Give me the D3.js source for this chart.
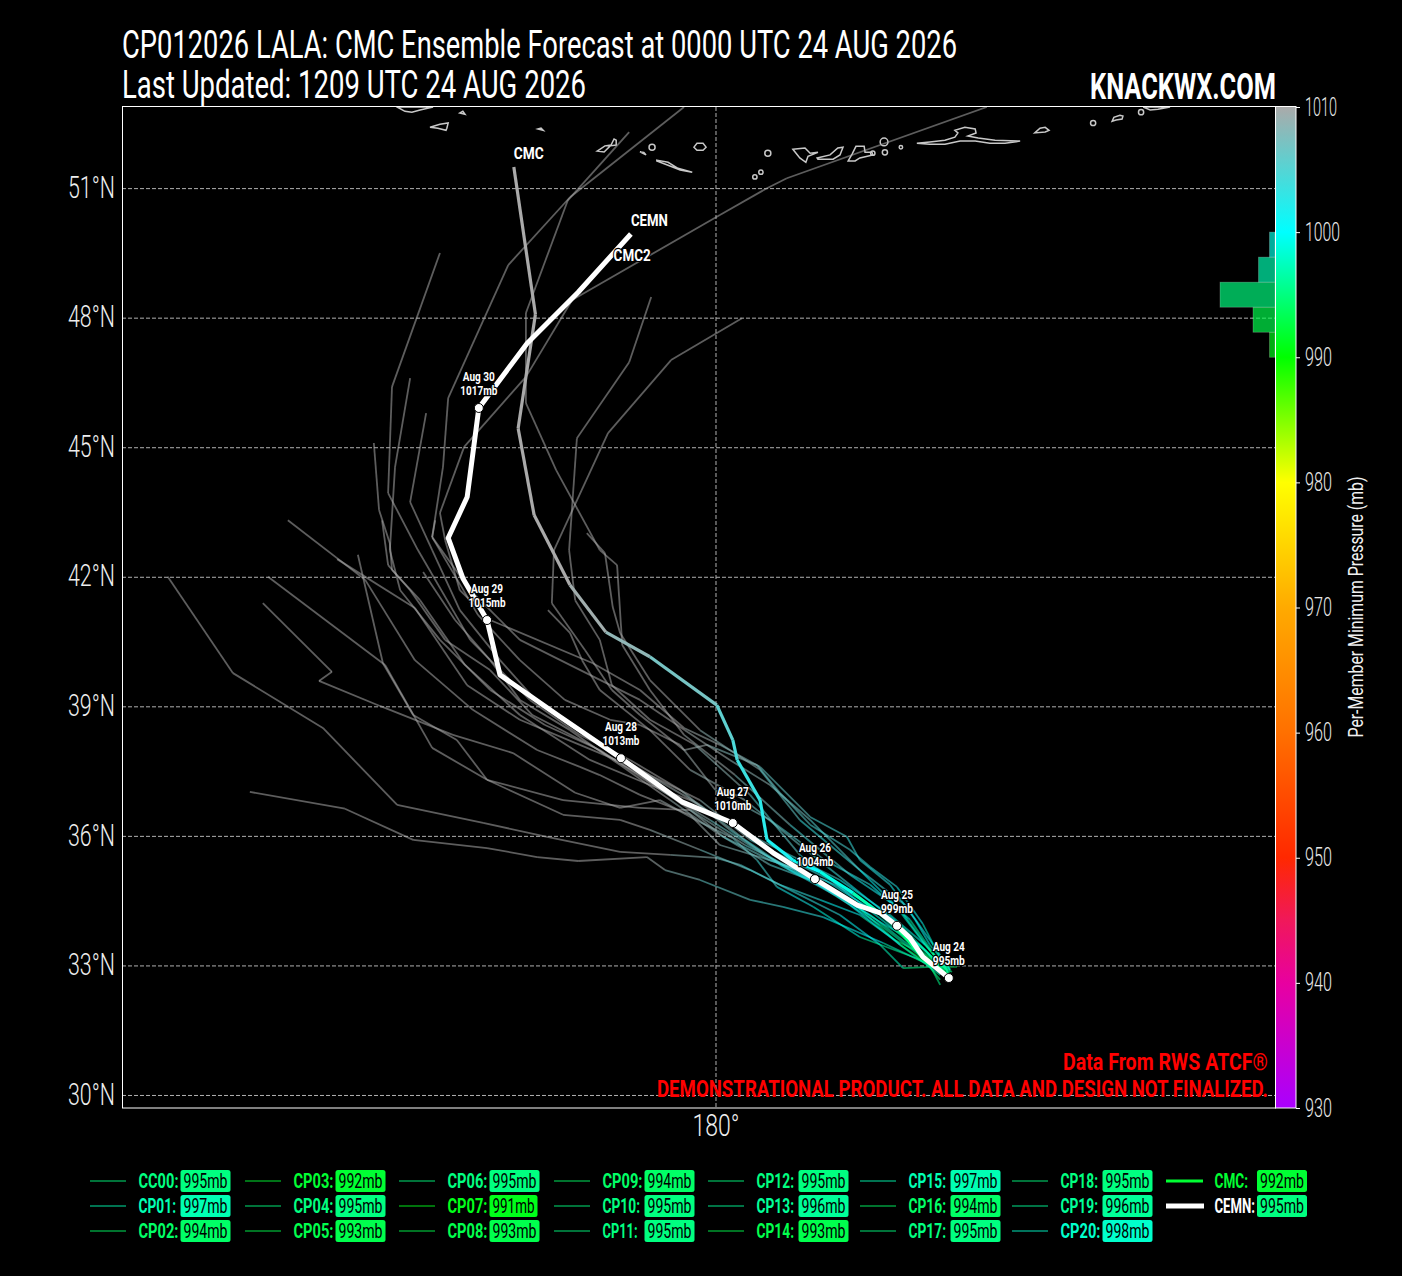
<!DOCTYPE html>
<html>
<head>
<meta charset="utf-8">
<script src="https://cdn.jsdelivr.net/npm/d3@7"></script>
<style>
  body { margin: 0; background: #000; }
  svg { display: block; }
  text { font-family: Roboto, "DejaVu Sans Condensed", sans-serif; }
</style>
</head>
<body>
<svg width="1402" height="1276"></svg>
<script>
// --- Track data: [lon east, lat, pressure mb], one point per forecast vertex ---
const cc00 = [[185.30,32.86,995],[184.84,33.37,998],[184.26,33.83,999],[183.57,34.41,1002],[182.76,34.88,1003],[181.94,35.22,1005],[181.02,35.52,1007],[180.09,35.80,1009],[179.40,36.50,1010],[178.24,36.96,1010],[177.31,37.42,1011],[176.85,37.61,1012],[175.86,38.00,1013],[174.37,38.93,1014],[173.03,40.08,1015],[171.88,41.94,1016],[170.09,43.32,1017]];
const cp01 = [[185.42,32.91,997],[184.95,33.49,999],[184.61,34.07,1000],[184.03,34.88,1002],[183.33,35.45,1003],[183.03,35.99,1004],[182.18,36.45,1005],[181.02,37.61,1007],[180.09,38.12,1009],[179.26,38.51,1010],[178.24,39.39,1010],[177.15,40.01,1011],[174.77,41.01,1012],[174.07,41.70,1013],[173.73,42.86,1014],[173.61,43.49,1014],[174.17,45.02,1015],[175.60,46.64,1015],[176.67,48.42,1016],[180.09,50.39,1016],[181.18,51.01,1017],[181.64,51.24,1017],[186.27,52.89,1018]];
const cp02 = [[185.58,32.98,994],[185.00,32.98,995],[184.33,32.95,996],[183.80,33.49,999],[182.87,34.18,1002],[181.71,34.76,1004],[180.79,35.22,1006],[179.63,35.69,1008],[178.47,36.15,1010],[177.78,36.38,1010],[176.46,36.50,1011],[174.70,37.31,1012],[173.43,38.05,1013],[172.34,39.97,1014],[169.63,42.01,1016]];
const cp03 = [[185.37,32.79,992],[184.84,33.25,994],[184.14,33.60,996],[183.33,34.18,999],[182.41,34.53,1002],[181.48,34.88,1004],[180.56,35.34,1006],[180.00,35.50,1007],[178.94,35.57,1010],[177.78,35.64,1010],[176.09,35.99,1011],[174.61,36.31,1012],[172.62,36.73,1013],[170.90,38.51,1014],[168.82,39.78,1015],[167.31,42.01,1016]];
const cp04 = [[185.19,32.56,995],[184.95,33.02,996],[183.87,33.53,999],[182.48,34.13,1002],[181.55,34.37,1004],[180.79,34.53,1005],[179.63,34.99,1007],[178.82,35.22,1009],[178.40,35.52,1010],[176.81,35.43,1010],[175.86,35.52,1011],[174.70,35.73,1012],[172.99,35.92,1013],[171.41,36.64,1014],[169.21,37.03,1015]];
const cp05 = [[185.37,32.81,993],[184.61,33.19,995],[183.33,33.67,998],[182.25,34.37,1000],[181.41,34.83,1003],[180.95,35.45,1005],[180.39,35.96,1007],[179.63,36.33,1009],[178.70,36.84,1010],[177.78,36.66,1010],[176.74,37.01,1011],[175.30,37.93,1012],[173.91,38.35,1013],[172.22,39.02,1014],[170.81,39.60,1015],[171.11,39.81,1015],[169.51,41.40,1016]];
const cp06 = [[185.30,32.84,995],[184.72,33.49,998],[183.91,33.95,999],[182.99,34.53,1002],[182.18,34.99,1004],[181.25,35.34,1006],[180.21,35.96,1008],[179.40,36.61,1010],[178.24,36.66,1010],[176.46,36.84,1011],[174.70,37.31,1012],[174.00,38.23,1013],[172.99,38.81,1014],[172.29,40.01,1015],[171.71,42.52,1016]];
const cp07 = [[185.30,32.79,991],[184.26,33.49,994],[183.10,34.53,998],[181.71,35.22,1003],[180.67,35.92,1006],[179.63,36.73,1009],[178.24,37.54,1010],[176.85,38.12,1011],[175.46,38.70,1012],[174.24,39.50,1013],[173.03,41.29,1014],[171.23,42.42,1016]];
const cp08 = [[185.42,32.72,993],[184.84,33.14,995],[183.80,33.95,998],[182.76,34.64,1000],[181.48,35.34,1004],[180.32,36.15,1007],[179.17,37.08,1010],[178.01,37.77,1010],[176.85,38.35,1011],[175.69,39.16,1012],[174.31,40.55,1013],[173.10,42.63,1014],[172.41,43.95,1015],[172.50,46.41,1016],[173.61,49.51,1017]];
const cp09 = [[185.19,32.68,994],[184.61,33.37,996],[183.57,34.18,999],[182.41,34.88,1002],[181.13,35.57,1005],[179.86,36.38,1008],[178.70,37.08,1010],[177.31,38.00,1010],[176.04,38.58,1011],[174.77,39.39,1012],[173.61,40.55,1013],[172.69,41.70,1014],[172.45,42.63,1015],[172.57,44.55,1016],[172.92,46.61,1017]];
const cp10 = [[185.46,32.86,995],[184.95,33.25,996],[184.14,33.95,999],[183.10,34.76,1002],[181.94,35.34,1005],[180.79,35.92,1007],[179.63,36.84,1010],[178.47,37.42,1010],[177.31,38.12,1011],[175.93,39.04,1012],[175.00,40.08,1013],[174.07,41.24,1014],[173.43,42.63,1015],[172.92,43.74,1016],[173.29,45.80,1017]];
const cp11 = [[185.37,32.91,995],[184.84,33.49,998],[184.03,34.18,1000],[182.87,34.99,1003],[181.71,35.57,1005],[180.56,36.15,1008],[179.40,36.84,1010],[178.47,37.19,1010],[177.08,37.77,1011],[175.46,38.81,1012],[174.19,39.97,1013],[173.15,41.47,1014],[172.50,42.17,1015],[172.45,42.79,1015],[172.20,43.56,1016],[172.08,45.11,1017]];
const cp12 = [[185.30,32.91,995],[184.49,34.07,999],[183.57,34.88,1002],[182.52,35.45,1004],[181.25,36.38,1006],[179.98,37.08,1009],[179.17,38.12,1010],[178.24,38.58,1010],[177.55,38.70,1011],[176.50,39.16,1012],[175.46,40.08,1013],[174.49,41.13,1014],[173.43,42.93,1015],[173.68,44.55,1016],[173.80,46.15,1017],[175.19,49.23,1017],[176.62,50.80,1018],[179.26,52.89,1018]];
const cp13 = [[185.37,32.86,996],[184.84,33.49,998],[184.14,34.41,1000],[183.10,35.11,1003],[181.71,36.27,1006],[180.44,37.42,1009],[179.26,38.35,1010],[178.47,39.39,1010],[177.83,40.43,1011],[177.71,42.28,1012],[177.31,42.63,1013],[176.30,44.48,1014],[175.60,46.03,1015],[175.60,48.12,1016],[176.57,50.73,1017],[177.99,52.31,1018]];
const cp14 = [[185.42,32.79,993],[185.07,33.02,994],[184.14,33.83,998],[183.10,34.64,1000],[181.94,35.57,1004],[180.79,36.96,1007],[179.51,38.12,1010],[178.47,38.70,1010],[177.59,39.50,1011],[177.31,40.55,1012],[176.74,41.47,1013],[176.60,42.63,1014],[176.78,45.22,1015],[177.99,46.98,1016],[178.50,48.49,1017]];
const cp15 = [[185.37,32.84,997],[184.79,33.97,1000],[184.19,34.83,1002],[183.57,35.29,1003],[183.10,35.69,1004],[182.18,36.27,1005],[181.48,37.01,1006],[180.95,37.65,1007],[179.79,38.12,1009],[179.26,38.00,1010],[178.24,38.81,1010],[177.59,39.39,1011],[176.97,40.31,1012],[176.20,41.40,1013],[176.25,42.63,1014],[177.50,45.34,1015],[178.96,47.03,1016],[180.60,48.00,1017]];
const cp16 = [[185.42,32.79,994],[184.95,33.37,996],[184.26,34.30,999],[183.33,35.22,1002],[181.94,36.38,1005],[181.02,37.54,1007],[179.63,38.46,1010],[178.47,39.62,1010],[177.78,40.71,1011],[177.61,41.31,1012],[177.43,42.56,1013],[177.01,43.02,1014]];
const cp17 = [[185.35,32.75,995],[185.07,33.14,996],[184.26,33.95,999],[183.10,34.88,1002],[181.94,35.80,1005],[180.67,36.84,1008],[179.40,37.54,1010],[178.47,38.46,1010],[177.31,39.39,1011],[176.90,40.08,1012],[176.62,40.71,1013],[176.11,41.24,1014]];
const cp18 = [[185.42,32.86,995],[184.72,33.37,996],[183.80,34.18,999],[182.52,34.99,1003],[181.25,35.45,1005],[180.09,36.03,1008],[178.94,36.84,1010],[177.78,37.65,1010],[176.62,38.46,1011],[175.46,39.16,1012],[174.77,40.08,1013],[173.96,41.01,1014],[173.22,42.12,1015]];
const cp19 = [[185.19,32.79,996],[184.26,33.49,999],[183.10,34.41,1002],[181.83,35.22,1004],[180.67,35.80,1007],[179.40,36.61,1010],[178.24,37.42,1010],[177.08,38.12,1011],[175.75,38.81,1012],[174.77,39.85,1013],[173.73,40.55,1014],[172.92,41.70,1015],[172.41,42.28,1016],[172.27,43.32,1016]];
const cp20 = [[185.42,32.91,998],[184.95,33.60,1000],[184.38,34.41,1002],[183.33,35.22,1004],[182.18,36.38,1006],[181.25,37.19,1008],[180.32,37.77,1009],[179.28,38.46,1010],[178.24,39.16,1010],[177.08,39.74,1011],[175.46,40.55,1012],[174.31,41.70,1013],[173.43,42.93,1014],[173.50,43.32,1015]];
const cmcTrack = [[185.39,32.72,992],[184.77,33.21,994],[184.10,33.99,996],[183.17,34.69,998],[182.41,35.18,1000],[181.78,35.45,1001],[181.18,35.92,1002],[181.02,36.84,1003],[180.49,37.77,1004],[180.39,38.23,1005],[180.02,39.04,1006],[178.47,40.16,1008],[177.45,40.73,1009],[176.62,41.82,1010],[175.79,43.44,1011],[175.42,45.45,1012],[175.82,48.09,1013],[175.32,51.50,1014]];
const cemnTrack = [[185.39,32.72],[184.79,33.21],[184.49,33.65],[184.19,33.93],[183.80,34.23],[183.27,34.41],[182.29,35.01],[181.32,35.62],[180.39,36.31],[179.21,36.80],[177.80,37.81],[176.39,38.77],[175.00,39.74],[174.70,41.01],[174.14,41.98],[173.80,42.91],[174.24,43.86],[174.51,45.92],[175.63,47.42],[176.81,48.60],[178.03,49.95]];

const memberTracks = [cc00, cp01, cp02, cp03, cp04, cp05, cp06, cp07, cp08, cp09, cp10, cp11, cp12, cp13, cp14, cp15, cp16, cp17, cp18, cp19, cp20];
const memberNames = ["CC00","CP01","CP02","CP03","CP04","CP05","CP06","CP07","CP08","CP09","CP10","CP11","CP12","CP13","CP14","CP15","CP16","CP17","CP18","CP19","CP20"];
const memberMinMb = [995,997,994,992,995,993,995,991,993,994,995,995,995,996,993,997,994,995,995,996,998];

// daily CEMN waypoints: [lon, lat, date, mb]
const waypoints = [[185.39,32.72,"Aug 24",995],[184.19,33.93,"Aug 25",999],[182.29,35.01,"Aug 26",1004],[180.39,36.31,"Aug 27",1010],[177.80,37.81,"Aug 28",1013],[174.70,41.01,"Aug 29",1015],[174.51,45.92,"Aug 30",1017]];
const trackEndLabels = [[175.32,51.50,"CMC",30],[178.03,49.95,"CEMN",37],[177.63,49.14,"CMC2",37]];

const latTicks = [30,33,36,39,42,45,48,51];
const lonTicks = [180];
const pressureTicks = [930,940,950,960,970,980,990,1000,1010];
const colorStops = [930,940,945,950,960,970,980,990,1000,1010];
const colorValues = ["#aa00ff","#e800a0","#f0185a","#ff2800","#ff7000","#ffaa00","#ffff00","#00ff00","#00ffff","#aaaaaa"];
// member counts per 2 mb bin
const histEdges = [990,992,994,996,998,1000];
const histCounts = [1,4,10,3,1];

// coastline outlines, lon/lat
const islands = [
  [[172.62,52.89],[172.80,52.79],[172.96,52.77],[173.15,52.82],[173.45,52.89]],
  [[173.38,52.42],[173.61,52.49],[173.80,52.52],[173.77,52.40],[173.75,52.35],[173.56,52.40]],
  [[174.07,52.75],[174.19,52.72],[174.14,52.79]],
  [[175.88,52.38],[176.00,52.35],[175.95,52.40]],
  [[177.25,51.87],[177.43,51.99],[177.57,52.01],[177.64,52.15],[177.69,52.12],[177.69,52.01],[177.55,51.99],[177.41,51.85]],
  [[178.24,51.85],[178.38,51.78],[178.33,51.84]],
  [[178.63,51.66],[178.89,51.61],[179.12,51.47],[179.45,51.38],[179.17,51.43],[178.89,51.54],[178.63,51.64]],
  [[179.49,51.96],[179.56,52.05],[179.70,52.05],[179.77,51.96],[179.70,51.89],[179.56,51.89]],
  [[181.78,51.91],[182.06,51.94],[182.18,51.82],[182.36,51.84],[182.13,51.75],[182.08,51.61],[181.94,51.71]],
  [[182.34,51.71],[182.64,51.78],[182.82,51.94],[182.94,51.96],[182.87,51.78],[182.71,51.68],[182.36,51.68]],
  [[183.06,51.64],[183.15,51.80],[183.24,51.98],[183.43,51.98],[183.45,51.84],[183.61,51.84],[183.63,51.78],[183.33,51.71],[183.22,51.64]],
  [[184.65,52.05],[184.95,52.08],[185.30,52.12],[185.53,52.19],[185.60,52.29],[185.53,52.35],[185.76,52.42],[186.00,52.38],[186.02,52.29],[185.83,52.22],[186.07,52.17],[186.46,52.12],[187.04,52.10],[186.69,52.05],[186.34,52.05],[186.00,52.10],[185.65,52.10],[185.30,52.03],[184.95,52.03]],
  [[187.38,52.29],[187.50,52.40],[187.62,52.42],[187.71,52.35],[187.62,52.31]],
  [[189.17,52.56],[189.21,52.65],[189.35,52.70],[189.42,52.68],[189.40,52.61],[189.26,52.59]],
  [[189.89,52.89],[190.05,52.82],[190.23,52.84],[190.51,52.89]]
];
// tiny islands: lon, lat, radius in degrees
const islets = [[178.52,51.96,0.07],[181.20,51.82,0.07],[180.90,51.27,0.05],[181.04,51.38,0.05],[183.91,51.84,0.06],[183.89,52.08,0.09],[184.28,51.96,0.04],[183.63,51.82,0.05],[188.73,52.52,0.06],[189.84,52.77,0.06]];

const svg = d3.select("svg");
const plot = {left: 122, right: 1275, top: 107, bottom: 1108};
const x = d3.scaleLinear().domain([166.25, 192.94]).range([plot.left, plot.right]);
const y = d3.scaleLinear().domain([29.71, 52.89]).range([plot.bottom, plot.top]);
const cbY = d3.scaleLinear().domain([930, 1010]).range([1108, 107]);
const pressureColor = d3.scaleLinear().domain(colorStops).range(colorValues).clamp(true);

// squeeze a text into a measured pixel width, stands in for the condensed face
function fit(sel, w) { return sel.attr("textLength", w).attr("lengthAdjust", "spacingAndGlyphs"); }
const oneCount = s => String(s).split("1").length - 1;

// --- Titles ---
fit(svg.append("text").attr("x", 122).attr("y", 58).attr("font-size", 39).attr("fill", "#fff")
  .text("CP012026 LALA: CMC Ensemble Forecast at 0000 UTC 24 AUG 2026"), 835);
fit(svg.append("text").attr("x", 122).attr("y", 98).attr("font-size", 39).attr("fill", "#fff")
  .text("Last Updated: 1209 UTC 24 AUG 2026"), 464);
fit(svg.append("text").attr("x", 1090).attr("y", 99).attr("font-size", 37).attr("font-weight", 700).attr("fill", "#fff")
  .text("KNACKWX.COM"), 186);

// --- Grid and axes ---
svg.append("clipPath").attr("id", "plot-clip").append("rect")
  .attr("x", plot.left).attr("y", plot.top).attr("width", plot.right - plot.left).attr("height", plot.bottom - plot.top);
const grid = svg.append("g").attr("class", "grid");
grid.selectAll("line.lat").data(latTicks).enter().append("line").attr("class", "lat")
  .attr("x1", plot.left).attr("x2", plot.right).attr("y1", d => y(d)).attr("y2", d => y(d));
grid.selectAll("line.lon").data(lonTicks).enter().append("line").attr("class", "lon")
  .attr("x1", d => x(d)).attr("x2", d => x(d)).attr("y1", plot.top).attr("y2", plot.bottom);
grid.selectAll("line").attr("stroke", "#b0b0b0").attr("stroke-width", 1).attr("stroke-dasharray", "4,2");

fit(svg.selectAll("text.lat").data(latTicks).enter().append("text").attr("class", "lat")
  .attr("x", 115).attr("y", d => y(d) - 2).attr("dy", "0.36em").attr("text-anchor", "end")
  .attr("font-size", 31).attr("font-weight", 300).attr("fill", "#eee").text(d => d + "\u00b0N"), 47);
fit(svg.selectAll("text.lon").data(lonTicks).enter().append("text").attr("class", "lon")
  .attr("x", d => x(d)).attr("y", 1136).attr("text-anchor", "middle")
  .attr("font-size", 31).attr("font-weight", 300).attr("fill", "#eee").text(d => d + "\u00b0"), 47);

// --- Histogram of member minimum pressure ---
const histX = d3.scaleLinear().domain([0, 10]).range([plot.right, plot.right - 55]);
svg.selectAll("rect.hist").data(histCounts).enter().append("rect").attr("class", "hist")
  .attr("x", d => histX(d)).attr("width", d => plot.right - histX(d))
  .attr("y", (d, i) => cbY(histEdges[i + 1])).attr("height", (d, i) => cbY(histEdges[i]) - cbY(histEdges[i + 1]))
  .attr("fill", (d, i) => pressureColor((histEdges[i] + histEdges[i + 1]) / 2)).attr("fill-opacity", 0.68)
  .attr("stroke", "#fff").attr("stroke-opacity", 0.25).attr("stroke-width", 0.8);

// --- Map ---
const map = svg.append("g").attr("clip-path", "url(#plot-clip)");
const geoLine = d3.line().x(d => x(d[0])).y(d => y(d[1]));
map.selectAll("path.island").data(islands).enter().append("path").attr("class", "island")
  .attr("d", d => geoLine(d) + "Z").attr("fill", "none").attr("stroke", "#c8c8c8").attr("stroke-width", 1.5);
map.selectAll("circle.islet").data(islets).enter().append("circle").attr("class", "islet")
  .attr("cx", d => x(d[0])).attr("cy", d => y(d[1])).attr("r", d => x(d[0] + d[2]) - x(d[0]))
  .attr("fill", "none").attr("stroke", "#c8c8c8").attr("stroke-width", 1.5);

// each segment gets the colour of its mean pressure
function drawTrack(track, width, opacity) {
  map.append("g").selectAll("line").data(d3.pairs(track)).enter().append("line")
    .attr("x1", d => x(d[0][0])).attr("y1", d => y(d[0][1]))
    .attr("x2", d => x(d[1][0])).attr("y2", d => y(d[1][1]))
    .attr("stroke", d => pressureColor((d[0][2] + d[1][2]) / 2))
    .attr("stroke-width", width).attr("stroke-opacity", opacity).attr("stroke-linecap", "butt");
}
memberTracks.forEach(t => drawTrack(t, 1.8, 0.55));
drawTrack(cmcTrack, 3.2, 1);

map.append("path").attr("d", geoLine(cemnTrack)).attr("fill", "none")
  .attr("stroke", "#fff").attr("stroke-width", 5).attr("stroke-linejoin", "round");

map.selectAll("circle.wp").data(waypoints).enter().append("circle").attr("class", "wp")
  .attr("cx", d => x(d[0])).attr("cy", d => y(d[1])).attr("r", 4.5)
  .attr("fill", "#fff").attr("stroke", "#000").attr("stroke-width", 1);

const wpLabels = svg.append("g").selectAll("g").data(waypoints).enter().append("g");
fit(wpLabels.append("text").attr("x", d => x(d[0])).attr("y", d => y(d[1]) - 27).text(d => d[2]), 32);
wpLabels.append("text").attr("x", d => x(d[0])).attr("y", d => y(d[1]) - 13).text(d => d[3] + "mb")
  .attr("textLength", d => d[3] >= 1000 ? 37 : 32).attr("lengthAdjust", "spacingAndGlyphs");
wpLabels.selectAll("text").attr("text-anchor", "middle").attr("font-size", 13).attr("font-weight", 700)
  .attr("fill", "#fff").attr("stroke", "#000").attr("stroke-width", 2.5).attr("paint-order", "stroke");

svg.selectAll("text.end").data(trackEndLabels).enter().append("text").attr("class", "end")
  .attr("x", d => x(d[0])).attr("y", d => y(d[1]) - 8).attr("font-size", 17).attr("font-weight", 700)
  .attr("fill", "#fff").attr("stroke", "#000").attr("stroke-width", 2.5).attr("paint-order", "stroke")
  .attr("textLength", d => d[3]).attr("lengthAdjust", "spacingAndGlyphs").text(d => d[2]);

// --- Disclaimers ---
fit(svg.append("text").attr("x", 1268).attr("y", 1070).attr("text-anchor", "end").attr("font-size", 24).attr("font-weight", 700)
  .attr("fill", "#ff0000").text("Data From RWS ATCF\u00ae"), 205);
fit(svg.append("text").attr("x", 1268).attr("y", 1097).attr("text-anchor", "end").attr("font-size", 24).attr("font-weight", 700)
  .attr("fill", "#ff0000").text("DEMONSTRATIONAL PRODUCT. ALL DATA AND DESIGN NOT FINALIZED."), 611);

// --- Frame and colorbar ---
svg.append("rect").attr("x", plot.left + 0.5).attr("y", plot.top - 0.5).attr("width", plot.right - plot.left).attr("height", plot.bottom - plot.top + 0.5)
  .attr("fill", "none").attr("stroke", "#fff").attr("stroke-width", 1);
const grad = svg.append("linearGradient").attr("id", "cb-grad").attr("x1", 0).attr("x2", 0).attr("y1", 1).attr("y2", 0);
grad.selectAll("stop").data(colorStops).enter().append("stop")
  .attr("offset", d => (d - 930) / 80).attr("stop-color", (d, i) => colorValues[i]);
svg.append("rect").attr("x", 1276).attr("y", 107).attr("width", 20).attr("height", 1001).attr("fill", "url(#cb-grad)");
svg.append("rect").attr("x", 1275.5).attr("y", 106.5).attr("width", 20.5).attr("height", 1001.5)
  .attr("fill", "none").attr("stroke", "#fff").attr("stroke-width", 1);
const cbAxis = svg.append("g").attr("transform", "translate(1296,0)")
  .call(d3.axisRight(cbY).tickValues(pressureTicks).tickSize(4).tickPadding(5).tickFormat(d3.format("d")));
cbAxis.select(".domain").remove();
cbAxis.selectAll("line").attr("stroke", "#fff");
cbAxis.selectAll("text").attr("font-size", 25).attr("font-weight", 300).attr("fill", "#e8e8e8").attr("font-family", "Roboto")
  .attr("textLength", d => d === 1010 ? 32 : d === 1000 ? 35 : 27).attr("lengthAdjust", "spacingAndGlyphs");
fit(svg.append("text").attr("transform", "translate(1363,607) rotate(-90)").attr("text-anchor", "middle")
  .attr("font-size", 21).attr("fill", "#f0f0f0").text("Per-Member Minimum Pressure (mb)"), 261);

// --- Legend ---
const legendColX = [90, 245, 399, 554, 708, 860, 1012];
const legendRowY = [1181, 1206, 1231];
const legend = svg.append("g");
function legendEntry(cx, cy, name, mb, lineColor, lineWidth, lineLen, labelColor, labelW, badgeDx) {
  legend.append("line").attr("x1", cx).attr("x2", cx + lineLen).attr("y1", cy).attr("y2", cy)
    .attr("stroke", lineColor).attr("stroke-width", lineWidth);
  fit(legend.append("text").attr("x", cx + 48.5).attr("y", cy + 7).attr("font-size", 20).attr("font-weight", 700)
    .attr("fill", labelColor).text(name + ":"), labelW);
  const textW = 44 - oneCount(mb) * 2;
  legend.append("rect").attr("x", cx + badgeDx).attr("y", cy - 11).attr("width", textW + 6).attr("height", 22).attr("rx", 2.5)
    .attr("fill", pressureColor(mb));
  fit(legend.append("text").attr("x", cx + badgeDx + 3).attr("y", cy + 7)
    .attr("font-size", 20).attr("font-weight", 400).attr("fill", "#000").text(mb + "mb"), textW);
}
memberNames.forEach((name, i) => {
  const c = pressureColor(memberMinMb[i]);
  const col = Math.floor(i / 3);
  const faded = d3.color(c);
  faded.opacity = 0.45;
  legendEntry(legendColX[col], legendRowY[i % 3], name, memberMinMb[i],
    faded.formatRgb(), 2, 36, c, 40 - oneCount(name) * 2.5, 90.5);
});
legendEntry(1166, legendRowY[0], "CMC", 992, pressureColor(992), 3, 37, pressureColor(992), 33.5, 91);
legendEntry(1166, legendRowY[1], "CEMN", 995, "#fff", 5, 38, "#fff", 40.5, 91);
</script>
</body>
</html>
